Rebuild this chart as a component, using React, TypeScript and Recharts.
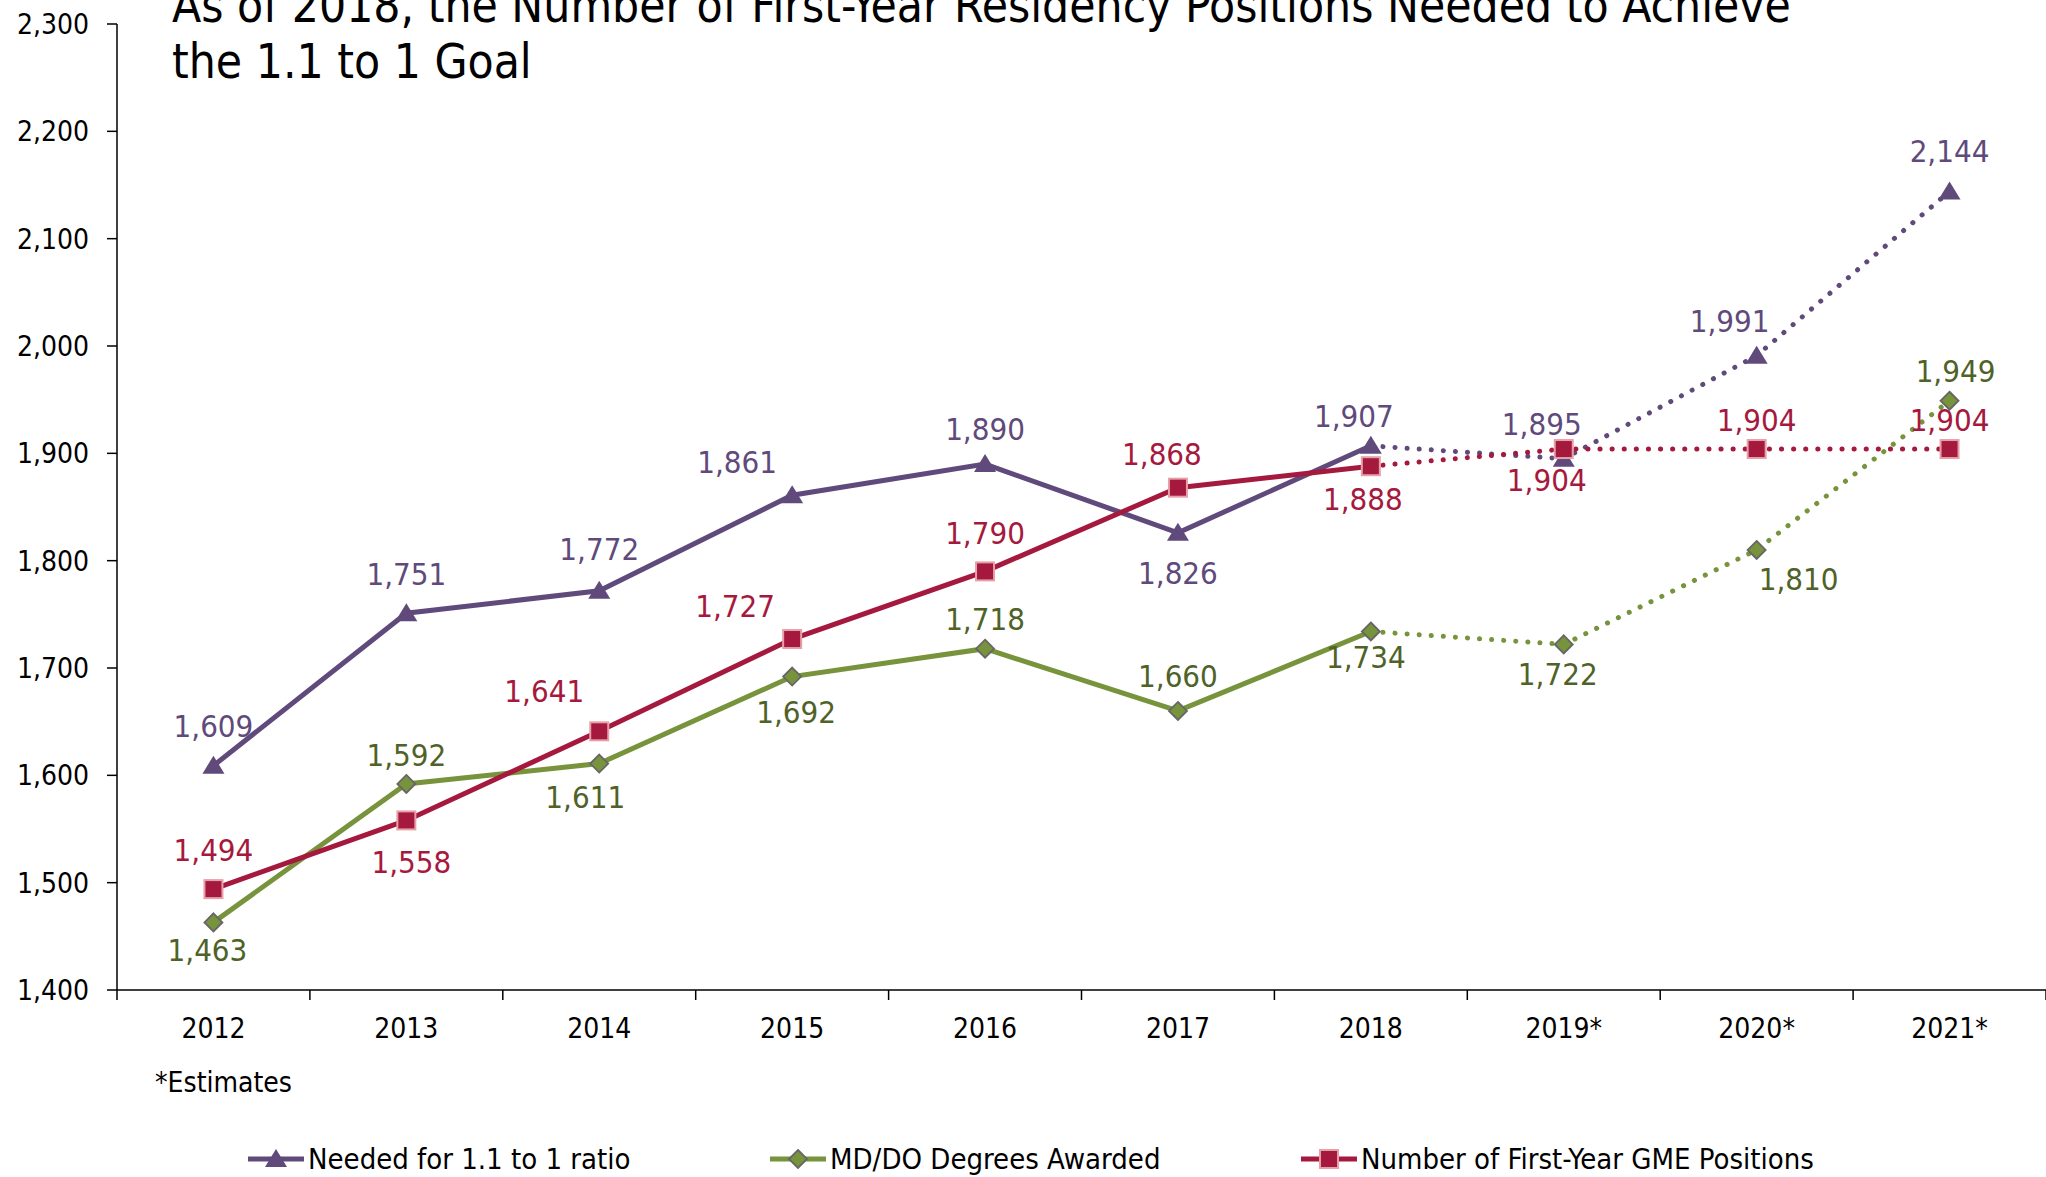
import React from 'react';
import { LabelList, Line, LineChart, XAxis, YAxis } from 'recharts';

const years = ['2012', '2013', '2014', '2015', '2016', '2017', '2018', '2019*', '2020*', '2021*'];
const needed = [1609, 1751, 1772, 1861, 1890, 1826, 1907, 1895, 1991, 2144];
const degrees = [1463, 1592, 1611, 1692, 1718, 1660, 1734, 1722, 1810, 1949];
const positions = [1494, 1558, 1641, 1727, 1790, 1868, 1888, 1904, 1904, 1904];
const yTicks = [1400, 1500, 1600, 1700, 1800, 1900, 2000, 2100, 2200, 2300];

// last actual year; after it the values are estimates
const LAST_ACTUAL = 6;

// label offsets [dx, dy] from each point, in px
const neededLabelPos = [[0, -40], [0, -39], [0, -42], [-55, -33], [0, -35], [0, 40], [-17, -30], [-22, -35], [-27, -35], [0, -40]];
const degreesLabelPos = [[-6, 28], [0, -29], [-14, 33], [4, 35], [0, -30], [0, -35], [-5, 25], [-6, 30], [42, 29], [6, -30]];
const positionsLabelPos = [[0, -39], [5, 42], [-55, -40], [-57, -33], [0, -38], [-16, -34], [-8, 33], [-17, 31], [0, -29], [0, -29]];

const PURPLE = '#604A7B';
const GREEN = '#77933C';
const GREEN_TEXT = '#4F6228';
const RED = '#A6193E';
const PINK = '#E6A0A8';
const FONT = '"DejaVu Sans Condensed", "DejaVu Sans", sans-serif';

const data = years.map((year, i) => ({
  i,
  year,
  needed: i <= LAST_ACTUAL ? needed[i] : null,
  neededEst: i >= LAST_ACTUAL ? needed[i] : null,
  degrees: i <= LAST_ACTUAL ? degrees[i] : null,
  degreesEst: i >= LAST_ACTUAL ? degrees[i] : null,
  positions: i <= LAST_ACTUAL ? positions[i] : null,
  positionsEst: i >= LAST_ACTUAL ? positions[i] : null,
}));

const xTicks: number[] = [];
for (let k = 0; k <= years.length * 2; k++) xTicks.push(-0.5 + k * 0.5);

const fmt = (v: number) => v.toLocaleString('en-US');

const Triangle = ({ cx, cy }: { cx: number; cy: number }) => (
  <polygon points={`${cx},${cy - 10} ${cx + 11},${cy + 8} ${cx - 11},${cy + 8}`} fill={PURPLE} />
);
const Diamond = ({ cx, cy }: { cx: number; cy: number }) => (
  <polygon points={`${cx},${cy - 9} ${cx + 9},${cy} ${cx},${cy + 9} ${cx - 9},${cy}`} fill={GREEN} stroke="#666" strokeWidth={1.8} />
);
const Square = ({ cx, cy }: { cx: number; cy: number }) => (
  <rect x={cx - 9} y={cy - 9} width={18} height={18} fill={RED} stroke={PINK} strokeWidth={2} />
);

const makeDot = (Shape: React.FC<{ cx: number; cy: number }>, from: number, to: number) => (props: any) => {
  const { cx, cy, index } = props;
  if (cx == null || cy == null || index < from || index > to) return <g key={`d-${index}`} />;
  return (
    <g key={`d-${index}`}>
      <Shape cx={cx} cy={cy} />
    </g>
  );
};

const makeLabel = (offsets: number[][], color: string, from: number, to: number) => (props: any) => {
  const { x, y, value, index } = props;
  if (value == null || index < from || index > to) return null;
  const [dx, dy] = offsets[index];
  return (
    <text
      key={`l-${index}`}
      x={x + dx}
      y={y + dy}
      textAnchor="middle"
      dominantBaseline="central"
      fill={color}
      fontSize={31}
      fontFamily={FONT}
    >
      {fmt(value)}
    </text>
  );
};

const XTick = (props: any) => {
  const { x, y, payload } = props;
  const v = payload.value as number;
  if (Number.isInteger(v)) {
    return (
      <text x={x} y={y + 38} textAnchor="middle" dominantBaseline="central" fill="#000" fontSize={28} fontFamily={FONT}>
        {years[v]}
      </text>
    );
  }
  return <line x1={x} y1={y} x2={x} y2={y + 10} stroke="#000" strokeWidth={1.5} />;
};

const legendItems = [
  { name: 'Needed for 1.1 to 1 ratio', color: PURPLE, Shape: Triangle, left: 248 },
  { name: 'MD/DO Degrees Awarded', color: GREEN, Shape: Diamond, left: 770 },
  { name: 'Number of First-Year GME Positions', color: RED, Shape: Square, left: 1301 },
];

export default function App() {
  return (
    <div style={{ position: 'absolute', left: 0, top: 0, width: 2046, height: 1177, overflow: 'hidden', background: '#fff', fontFamily: FONT }}>
      <LineChart width={2046} height={1177} data={data} margin={{ top: 24, right: 0, left: 0, bottom: 137 }}>
        <XAxis
          dataKey="i"
          type="number"
          domain={[-0.5, 9.5]}
          ticks={xTicks}
          interval={0}
          height={50}
          tickSize={0}
          tickMargin={0}
          tickLine={false}
          axisLine={{ stroke: '#000', strokeWidth: 1.5 }}
          tick={<XTick />}
        />
        <YAxis
          width={117}
          domain={[1400, 2300]}
          ticks={yTicks}
          interval={0}
          tickFormatter={fmt}
          tickSize={10}
          tickMargin={18}
          axisLine={{ stroke: '#000', strokeWidth: 1.5 }}
          tickLine={{ stroke: '#000', strokeWidth: 1.5 }}
          tick={{ fill: '#000', fontSize: 28, fontFamily: FONT }}
        />
        <Line dataKey="needed" stroke={PURPLE} strokeWidth={5} dot={makeDot(Triangle, 0, LAST_ACTUAL)} isAnimationActive={false}>
          <LabelList dataKey="needed" content={makeLabel(neededLabelPos, PURPLE, 0, LAST_ACTUAL)} />
        </Line>
        <Line dataKey="degrees" stroke={GREEN} strokeWidth={5} dot={makeDot(Diamond, 0, LAST_ACTUAL)} isAnimationActive={false}>
          <LabelList dataKey="degrees" content={makeLabel(degreesLabelPos, GREEN_TEXT, 0, LAST_ACTUAL)} />
        </Line>
        <Line dataKey="positions" stroke={RED} strokeWidth={5} dot={makeDot(Square, 0, LAST_ACTUAL)} isAnimationActive={false}>
          <LabelList dataKey="positions" content={makeLabel(positionsLabelPos, RED, 0, LAST_ACTUAL)} />
        </Line>
        <Line dataKey="neededEst" stroke={PURPLE} strokeWidth={5} strokeDasharray="0.1 12" strokeLinecap="round" dot={makeDot(Triangle, LAST_ACTUAL + 1, 99)} isAnimationActive={false}>
          <LabelList dataKey="neededEst" content={makeLabel(neededLabelPos, PURPLE, LAST_ACTUAL + 1, 99)} />
        </Line>
        <Line dataKey="degreesEst" stroke={GREEN} strokeWidth={5} strokeDasharray="0.1 12" strokeLinecap="round" dot={makeDot(Diamond, LAST_ACTUAL + 1, 99)} isAnimationActive={false}>
          <LabelList dataKey="degreesEst" content={makeLabel(degreesLabelPos, GREEN_TEXT, LAST_ACTUAL + 1, 99)} />
        </Line>
        <Line dataKey="positionsEst" stroke={RED} strokeWidth={5} strokeDasharray="0.1 12" strokeLinecap="round" dot={makeDot(Square, LAST_ACTUAL + 1, 99)} isAnimationActive={false}>
          <LabelList dataKey="positionsEst" content={makeLabel(positionsLabelPos, RED, LAST_ACTUAL + 1, 99)} />
        </Line>
      </LineChart>

      <div style={{ position: 'absolute', left: 172, top: -22, fontSize: 47.5, lineHeight: '56px', color: '#000', whiteSpace: 'nowrap' }}>
        As of 2018, the Number of First-Year Residency Positions Needed to Achieve
        <br />
        the 1.1 to 1 Goal
      </div>

      <div style={{ position: 'absolute', left: 155, top: 1066, fontSize: 28, lineHeight: '34px', color: '#000' }}>*Estimates</div>

      {legendItems.map(({ name, color, Shape, left }) => (
        <div key={name} style={{ position: 'absolute', left, top: 1141, height: 36, display: 'flex', alignItems: 'center', whiteSpace: 'nowrap' }}>
          <svg width={58} height={36} style={{ display: 'block' }}>
            <line x1={0} y1={18} x2={56} y2={18} stroke={color} strokeWidth={5} />
            <Shape cx={28} cy={18} />
          </svg>
          <span style={{ fontSize: 29, color: '#000', marginLeft: 2 }}>{name}</span>
        </div>
      ))}
    </div>
  );
}
